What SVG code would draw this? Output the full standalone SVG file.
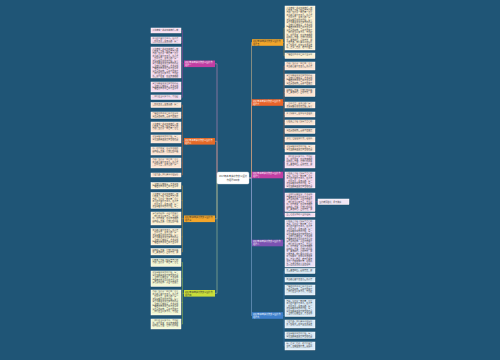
<svg xmlns="http://www.w3.org/2000/svg" xmlns:xlink="http://www.w3.org/1999/xlink" width="500" height="360" viewBox="0 0 500 360">
<style>
.lt{font-family:"Noto Sans CJK SC","Noto Sans",sans-serif;font-size:2px;fill:#3a3a3a}
.bt{font-family:"Noto Sans CJK SC","Noto Sans",sans-serif;font-size:2.1px;fill:#ffffff}
.dk{fill:#333333}
.ct{font-family:"Noto Sans CJK SC","Noto Sans",sans-serif;font-size:2.3px;fill:#333333;text-anchor:middle}
.sh{fill:#133a55}
.lf{stroke:#ffffff;stroke-width:.5}
.pk{fill:#f7ddf1}.pe{fill:#fde5d3}.cr{fill:#fdf1d3}.gr{fill:#f3f7d6}.lv{fill:#ece0f6}.bl{fill:#dcebf7}
.cn path{fill:none;stroke-width:.6}
.lk path{fill:none;stroke-width:.4}
</style>
<defs>
<text id="p" class="lt"><tspan x="0" y="1.9">人生就像一场漫长的旅行，我</tspan><tspan x="0" dy="2.5">们在路上不断寻找属于自己的</tspan><tspan x="0" dy="2.5">方向。坚持是一种力量，它让</tspan><tspan x="0" dy="2.5">平凡的人变得不平凡。古人云</tspan><tspan x="0" dy="2.5">：锲而不舍，金石可镂。每一</tspan><tspan x="0" dy="2.5">次跌倒都是成长的开始，每一</tspan><tspan x="0" dy="2.5">滴汗水都将浇灌出梦想的花朵</tspan><tspan x="0" dy="2.5">。当我们回首往事，才发现那</tspan><tspan x="0" dy="2.5">些艰难的日子早已成为生命中</tspan><tspan x="0" dy="2.5">最珍贵的财富。青春不应虚度</tspan><tspan x="0" dy="2.5">，我们应当以梦为马，不负韶</tspan><tspan x="0" dy="2.5">华。时代在变，但追求卓越的</tspan><tspan x="0" dy="2.5">精神永远不变。让我们怀揣希</tspan><tspan x="0" dy="2.5">望，勇敢前行。心中有光，脚</tspan><tspan x="0" dy="2.5">下便有路。我们要学会在困境</tspan><tspan x="0" dy="2.5">中寻找希望，在平淡中发现美</tspan><tspan x="0" dy="2.5">好。正如一棵树，唯有扎根于</tspan><tspan x="0" dy="2.5">大地，才能枝繁叶茂，迎风而</tspan><tspan x="0" dy="2.5">立。这便是我对人生的理解，</tspan><tspan x="0" dy="2.5">也是我向未来交出的答卷。</tspan></text>
</defs>
<rect width="500" height="360" fill="#1f5576"/>

<g id="connectors">
<g class="cn">
<path d="M217,178V63.8H215" stroke="#c78ab8"/>
<path d="M217,178V141.3H215" stroke="#d79a7a"/>
<path d="M217,178V218.8H215" stroke="#c9b089"/>
<path d="M217,178V293.3H215" stroke="#a9c39a"/>
<path d="M249,178H251.5V42.5H252" stroke="#c9b089"/>
<path d="M249,178H251.5V102.5H252" stroke="#d79a7a"/>
<path d="M249,178H251.5V175H252" stroke="#c78ab8"/>
<path d="M249,178H251.5V243H252" stroke="#9a86bf"/>
<path d="M249,178H251.5V315.5H252" stroke="#7fa4cf"/>
</g>
<g class="lk">
<path stroke="#c13ea3" d="M184,63.8H182.5M182.5,30.5V97.3M182.5,30.5H181M182.5,40.3H181M182.5,62.5H181M182.5,87H181M182.5,97.3H181"/>
<path stroke="#e46a28" d="M184,141.3H182.5M182.5,105V175M182.5,105H181M182.5,115.3H181M182.5,127H181M182.5,139H181M182.5,151H181M182.5,163H181M182.5,175H181"/>
<path stroke="#f2a52a" d="M184,218.8H182.5M182.5,185.8V251.8M182.5,185.8H181M182.5,200.5H181M182.5,218.5H181M182.5,236.8H181M182.5,251.8H181"/>
<path stroke="#c9dd3a" d="M184,293.3H182.5M182.5,262.5V324M182.5,262.5H181M182.5,278.8H181M182.5,302.5H181M182.5,324H181"/>
<path stroke="#f2a52a" d="M283,42.5H284M284,28V55.8M284,28H285M284,55.8H285"/>
<path stroke="#e8632a" d="M283,102.5H284M284,66V148.5M284,66H285M284,79.5H285M284,92.5H285M284,105H285M284,114.5H285M284,122.5H285M284,131H285M284,139.5H285M284,148.5H285"/>
<path stroke="#c13ea3" d="M283,175H284M284,161.5V215M284,161.5H285M284,180H285M284,202.3H285M284,215H285"/>
<path stroke="#7c52b2" d="M283,243H285"/>
<path stroke="#3d7fcb" d="M283,315.5H284M284,271V346M284,271H285M284,279.8H285M284,290H285M284,308H285M284,324H285M284,335.3H285M284,346H285"/>
<path stroke="#c13ea3" d="M315,201.8H318"/>
</g>
</g>

<g id="center"><rect x="217" y="172" width="32" height="12" rx="1.5" fill="#ffffff" stroke="#d0d8e0" stroke-width=".4"/><text class="ct" x="233" y="177.3">2017年高考满分作文以坚持</text><text class="ct" x="233" y="181.2">为话题800字</text></g>

<g id="b-l1"><rect x="184" y="60.5" width="31" height="6.6" fill="#c13ea3"/><text class="bt" x="185" y="63.2">2017年高考满分作文以坚持为</text><text class="bt" x="185" y="66">话题一</text></g>
<g id="b-l2"><rect x="184" y="138" width="31" height="6.6" fill="#e46a28"/><text class="bt" x="185" y="140.7">2017年高考满分作文以坚持为</text><text class="bt" x="185" y="143.5">话题二</text></g>
<g id="b-l3"><rect x="184" y="215.5" width="31" height="6.6" fill="#f2a52a"/><text class="bt dk" x="185" y="218.2">2017年高考满分作文以坚持为</text><text class="bt dk" x="185" y="221">话题三</text></g>
<g id="b-l4"><rect x="184" y="290" width="31" height="6.6" fill="#c9dd3a"/><text class="bt dk" x="185" y="292.7">2017年高考满分作文以坚持为</text><text class="bt dk" x="185" y="295.5">话题四</text></g>
<g id="b-r1"><rect x="252" y="39.2" width="31" height="6.6" fill="#f2a52a"/><text class="bt dk" x="253" y="41.9">2017年高考满分作文以坚持为</text><text class="bt dk" x="253" y="44.7">话题五</text></g>
<g id="b-r2"><rect x="252" y="99.2" width="31" height="6.6" fill="#e8632a"/><text class="bt" x="253" y="101.9">2017年高考满分作文以坚持为</text><text class="bt" x="253" y="104.7">话题六</text></g>
<g id="b-r3"><rect x="252" y="171.7" width="31" height="6.6" fill="#c13ea3"/><text class="bt" x="253" y="174.4">2017年高考满分作文以坚持为</text><text class="bt" x="253" y="177.2">话题七</text></g>
<g id="b-r4"><rect x="252" y="239.7" width="31" height="6.6" fill="#7c52b2"/><text class="bt" x="253" y="242.4">2017年高考满分作文以坚持为</text><text class="bt" x="253" y="245.2">话题八</text></g>
<g id="b-r5"><rect x="252" y="312.2" width="31" height="6.6" fill="#3d7fcb"/><text class="bt" x="253" y="314.9">2017年高考满分作文以坚持为</text><text class="bt" x="253" y="317.7">话题九</text></g>

<g id="l1a"><rect class="sh" x="151.6" y="28.6" width="30" height="5"/><rect class="lf pk" x="151" y="28" width="30" height="5"/><svg x="152.3" y="28.6" width="27.4" height="2.5"><use xlink:href="#p"/></svg></g>
<g id="l1b"><rect class="sh" x="151.6" y="37.6" width="30" height="6.5"/><rect class="lf pk" x="151" y="37" width="30" height="6.5"/><svg x="152.3" y="37.6" width="27.4" height="5"><use xlink:href="#p" y="-7.5"/></svg></g>
<g id="l1c"><rect class="sh" x="151.6" y="47.6" width="30" height="31"/><rect class="lf pk" x="151" y="47" width="30" height="31"/><svg x="152.3" y="47.6" width="27.4" height="30"><use xlink:href="#p"/></svg></g>
<g id="l1d"><rect class="sh" x="151.6" y="82.6" width="30" height="10"/><rect class="lf pk" x="151" y="82" width="30" height="10"/><svg x="152.3" y="82.6" width="27.4" height="7.5"><use xlink:href="#p" y="-15"/></svg></g>
<g id="l1e"><rect class="sh" x="151.6" y="95.6" width="30" height="4.5"/><rect class="lf pk" x="151" y="95" width="30" height="4.5"/><svg x="152.3" y="95.6" width="27.4" height="2.5"><use xlink:href="#p" y="-25"/></svg></g>

<g id="l2a"><rect class="sh" x="151.6" y="103.1" width="30" height="5"/><rect class="lf pe" x="151" y="102.5" width="30" height="5"/><svg x="152.3" y="103.1" width="27.4" height="2.5"><use xlink:href="#p" y="-10"/></svg></g>
<g id="l2b"><rect class="sh" x="151.6" y="112.6" width="30" height="6.5"/><rect class="lf pe" x="151" y="112" width="30" height="6.5"/><svg x="152.3" y="112.6" width="27.4" height="5"><use xlink:href="#p" y="-20"/></svg></g>
<g id="l2c"><rect class="sh" x="151.6" y="122.6" width="30" height="10"/><rect class="lf pe" x="151" y="122" width="30" height="10"/><svg x="152.3" y="122.6" width="27.4" height="7.5"><use xlink:href="#p"/></svg></g>
<g id="l2d"><rect class="sh" x="151.6" y="135.6" width="30" height="8"/><rect class="lf pe" x="151" y="135" width="30" height="8"/><svg x="152.3" y="135.6" width="27.4" height="5"><use xlink:href="#p" y="-12.5"/></svg></g>
<g id="l2e"><rect class="sh" x="151.6" y="147.6" width="30" height="8"/><rect class="lf pe" x="151" y="147" width="30" height="8"/><svg x="152.3" y="147.6" width="27.4" height="5"><use xlink:href="#p" y="-27.5"/></svg></g>
<g id="l2f"><rect class="sh" x="151.6" y="158.6" width="30" height="10"/><rect class="lf pe" x="151" y="158" width="30" height="10"/><svg x="152.3" y="158.6" width="27.4" height="7.5"><use xlink:href="#p" y="-5"/></svg></g>
<g id="l2g"><rect class="sh" x="151.6" y="173.6" width="30" height="4"/><rect class="lf pe" x="151" y="173" width="30" height="4"/><svg x="152.3" y="173.5" width="27.4" height="2.5"><use xlink:href="#p" y="-35"/></svg></g>

<g id="l3a"><rect class="sh" x="151.6" y="183.1" width="30" height="6.5"/><rect class="lf cr" x="151" y="182.5" width="30" height="6.5"/><svg x="152.3" y="183.1" width="27.4" height="5"><use xlink:href="#p" y="-17.5"/></svg></g>
<g id="l3b"><rect class="sh" x="151.6" y="193.1" width="30" height="16"/><rect class="lf cr" x="151" y="192.5" width="30" height="16"/><svg x="152.3" y="193.1" width="27.4" height="15"><use xlink:href="#p"/></svg></g>
<g id="l3c"><rect class="sh" x="151.6" y="212.6" width="30" height="13"/><rect class="lf cr" x="151" y="212" width="30" height="13"/><svg x="152.3" y="212.6" width="27.4" height="10"><use xlink:href="#p" y="-22.5"/></svg></g>
<g id="l3d"><rect class="sh" x="151.6" y="229.1" width="30" height="16.5"/><rect class="lf cr" x="151" y="228.5" width="30" height="16.5"/><svg x="152.3" y="229.1" width="27.4" height="15"><use xlink:href="#p" y="-7.5"/></svg></g>
<g id="l3e"><rect class="sh" x="151.6" y="249.1" width="30" height="6.5"/><rect class="lf cr" x="151" y="248.5" width="30" height="6.5"/><svg x="152.3" y="249.1" width="27.4" height="5"><use xlink:href="#p" y="-30"/></svg></g>

<g id="l4a"><rect class="sh" x="151.6" y="259.1" width="30" height="8"/><rect class="lf gr" x="151" y="258.5" width="30" height="8"/><svg x="152.3" y="259.1" width="27.4" height="5"><use xlink:href="#p" y="-2.5"/></svg></g>
<g id="l4b"><rect class="sh" x="151.6" y="271.6" width="30" height="15.5"/><rect class="lf gr" x="151" y="271" width="30" height="15.5"/><svg x="152.3" y="271.6" width="27.4" height="12.5"><use xlink:href="#p" y="-12.5"/></svg></g>
<g id="l4c"><rect class="sh" x="151.6" y="290.6" width="30" height="25"/><rect class="lf gr" x="151" y="290" width="30" height="25"/><svg x="152.3" y="290.6" width="27.4" height="22.5"><use xlink:href="#p" y="-5"/></svg></g>
<g id="l4d"><rect class="sh" x="151.6" y="319.6" width="30" height="10"/><rect class="lf gr" x="151" y="319" width="30" height="10"/><svg x="152.3" y="319.6" width="27.4" height="7.5"><use xlink:href="#p" y="-25"/></svg></g>

<g id="r1a"><rect class="sh" x="285.6" y="6.6" width="30" height="44"/><rect class="lf cr" x="285" y="6" width="30" height="44"/><svg x="286.3" y="6.6" width="27.4" height="42.5"><use xlink:href="#p"/></svg></g>
<g id="r1b"><rect class="sh" x="285.6" y="53.6" width="30" height="5.5"/><rect class="lf cr" x="285" y="53" width="30" height="5.5"/><svg x="286.3" y="53.6" width="27.4" height="2.5"><use xlink:href="#p" y="-20"/></svg></g>

<g id="r2a"><rect class="sh" x="285.6" y="62.6" width="30" height="8"/><rect class="lf pe" x="285" y="62" width="30" height="8"/><svg x="286.3" y="62.6" width="27.4" height="5"><use xlink:href="#p" y="-5"/></svg></g>
<g id="r2b"><rect class="sh" x="285.6" y="74.6" width="30" height="11"/><rect class="lf pe" x="285" y="74" width="30" height="11"/><svg x="286.3" y="74.6" width="27.4" height="10"><use xlink:href="#p" y="-15"/></svg></g>
<g id="r2c"><rect class="sh" x="285.6" y="89.1" width="30" height="8"/><rect class="lf pe" x="285" y="88.5" width="30" height="8"/><svg x="286.3" y="89.1" width="27.4" height="5"><use xlink:href="#p" y="-30"/></svg></g>
<g id="r2d"><rect class="sh" x="285.6" y="102.6" width="30" height="6"/><rect class="lf pe" x="285" y="102" width="30" height="6"/><svg x="286.3" y="102.6" width="27.4" height="5"><use xlink:href="#p" y="-10"/></svg></g>
<g id="r2e"><rect class="sh" x="285.6" y="112.6" width="30" height="5"/><rect class="lf pe" x="285" y="112" width="30" height="5"/><svg x="286.3" y="112.6" width="27.4" height="2.5"><use xlink:href="#p" y="-37.5"/></svg></g>
<g id="r2f"><rect class="sh" x="285.6" y="120.6" width="30" height="5"/><rect class="lf pe" x="285" y="120" width="30" height="5"/><svg x="286.3" y="120.6" width="27.4" height="2.5"><use xlink:href="#p" y="-2.5"/></svg></g>
<g id="r2g"><rect class="sh" x="285.6" y="129.1" width="30" height="5"/><rect class="lf pe" x="285" y="128.5" width="30" height="5"/><svg x="286.3" y="129.1" width="27.4" height="2.5"><use xlink:href="#p" y="-22.5"/></svg></g>
<g id="r2h"><rect class="sh" x="285.6" y="137.6" width="30" height="5"/><rect class="lf pe" x="285" y="137" width="30" height="5"/><svg x="286.3" y="137.6" width="27.4" height="2.5"><use xlink:href="#p" y="-42.5"/></svg></g>
<g id="r2i"><rect class="sh" x="285.6" y="145.6" width="30" height="7"/><rect class="lf pe" x="285" y="145" width="30" height="7"/><svg x="286.3" y="145.6" width="27.4" height="5"><use xlink:href="#p" y="-12.5"/></svg></g>

<g id="r3a"><rect class="sh" x="285.6" y="155.6" width="30" height="13"/><rect class="lf pk" x="285" y="155" width="30" height="13"/><svg x="286.3" y="155.6" width="27.4" height="10"><use xlink:href="#p" y="-25"/></svg></g>
<g id="r3b"><rect class="sh" x="285.6" y="172.6" width="30" height="16"/><rect class="lf pk" x="285" y="172" width="30" height="16"/><svg x="286.3" y="172.6" width="27.4" height="15"><use xlink:href="#p" y="-2.5"/></svg></g>
<g id="r3c"><rect class="sh" x="285.6" y="193.6" width="30" height="18.5"/><rect class="lf pk" x="285" y="193" width="30" height="18.5"/><svg x="286.3" y="193.6" width="27.4" height="17.5"><use xlink:href="#p" y="-17.5"/></svg></g>
<g id="r3d"><rect class="sh" x="285.6" y="213.6" width="30" height="4"/><rect class="lf pk" x="285" y="213" width="30" height="4"/><svg x="286.3" y="213.5" width="27.4" height="2.5"><use xlink:href="#p" y="-45"/></svg></g>
<g id="r3c1"><rect class="sh" x="318.6" y="199.6" width="31" height="5.5"/><rect class="lf" fill="#f1e6f4" x="318" y="199" width="31" height="5.5"/><text class="lt" x="319.3" y="202.6">坚持就是胜利，永不放弃</text></g>

<g id="r4a"><rect class="sh" x="285.6" y="220.6" width="30" height="47"/><rect class="lf lv" x="285" y="220" width="30" height="47"/><svg x="286.3" y="220.6" width="27.4" height="45"><use xlink:href="#p" y="-2.5"/></svg></g>

<g id="r5a"><rect class="sh" x="285.6" y="269.1" width="30" height="5"/><rect class="lf bl" x="285" y="268.5" width="30" height="5"/><svg x="286.3" y="269.1" width="27.4" height="2.5"><use xlink:href="#p" y="-32.5"/></svg></g>
<g id="r5b"><rect class="sh" x="285.6" y="278.1" width="30" height="4.5"/><rect class="lf bl" x="285" y="277.5" width="30" height="4.5"/><svg x="286.3" y="278.1" width="27.4" height="2.5"><use xlink:href="#p" y="-7.5"/></svg></g>
<g id="r5c"><rect class="sh" x="285.6" y="285.6" width="30" height="10"/><rect class="lf bl" x="285" y="285" width="30" height="10"/><svg x="286.3" y="285.6" width="27.4" height="7.5"><use xlink:href="#p" y="-20"/></svg></g>
<g id="r5d"><rect class="sh" x="285.6" y="300.1" width="30" height="17"/><rect class="lf bl" x="285" y="299.5" width="30" height="17"/><svg x="286.3" y="300.1" width="27.4" height="15"><use xlink:href="#p" y="-5"/></svg></g>
<g id="r5e"><rect class="sh" x="285.6" y="320.6" width="30" height="8"/><rect class="lf bl" x="285" y="320" width="30" height="8"/><svg x="286.3" y="320.6" width="27.4" height="5"><use xlink:href="#p" y="-35"/></svg></g>
<g id="r5f"><rect class="sh" x="285.6" y="332.6" width="30" height="6.5"/><rect class="lf bl" x="285" y="332" width="30" height="6.5"/><svg x="286.3" y="332.6" width="27.4" height="5"><use xlink:href="#p" y="-12.5"/></svg></g>
<g id="r5g"><rect class="sh" x="285.6" y="342.6" width="30" height="8"/><rect class="lf bl" x="285" y="342" width="30" height="8"/><svg x="286.3" y="342.6" width="27.4" height="5"><use xlink:href="#p" y="-40"/></svg></g>
</svg>
